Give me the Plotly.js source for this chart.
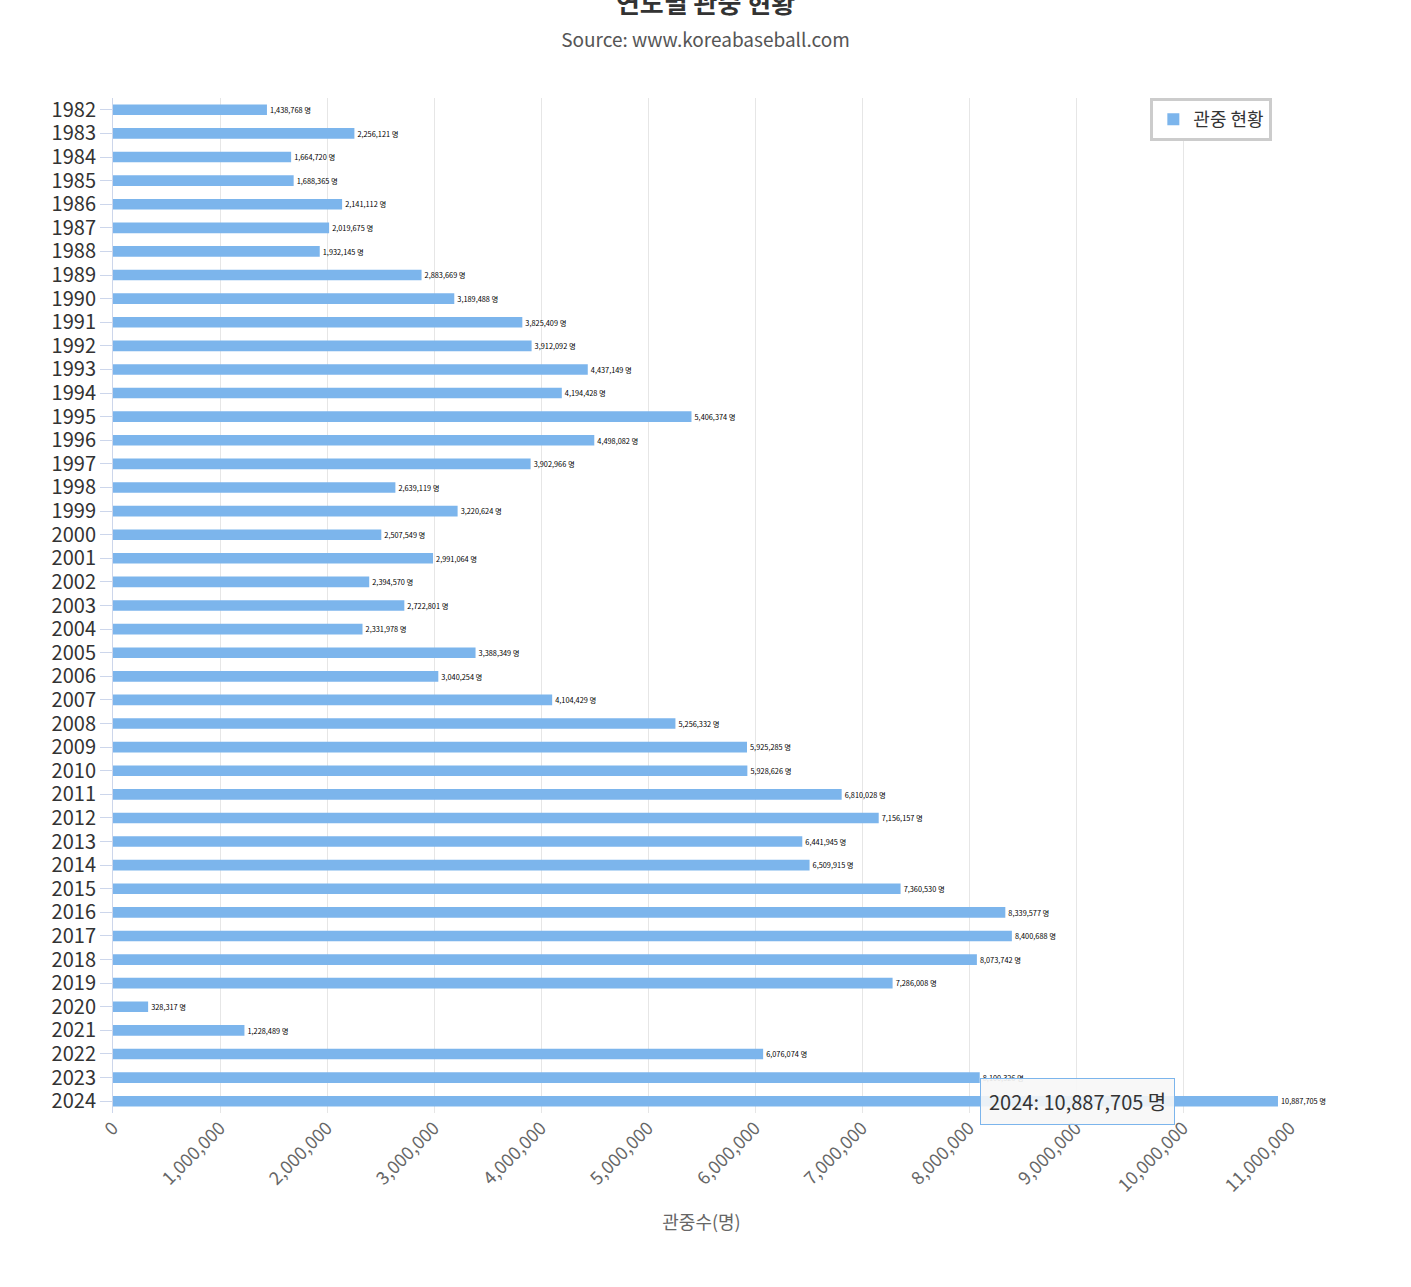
<!DOCTYPE html>
<html>
<head>
<meta charset="utf-8">
<script src="https://cdn.plot.ly/plotly-3.0.1.min.js"></script>
<style>body{margin:0;background:#fff}</style>
</head>
<body>
<div id="chart" style="width:1411px;height:1287px"></div>
<script>
var years = [1982,1983,1984,1985,1986,1987,1988,1989,1990,1991,1992,1993,1994,1995,1996,1997,1998,1999,2000,2001,2002,2003,2004,2005,2006,2007,2008,2009,2010,2011,2012,2013,2014,2015,2016,2017,2018,2019,2020,2021,2022,2023,2024];
var crowd = [1438768,2256121,1664720,1688365,2141112,2019675,1932145,2883669,3189488,3825409,3912092,4437149,4194428,5406374,4498082,3902966,2639119,3220624,2507549,2991064,2394570,2722801,2331978,3388349,3040254,4104429,5256332,5925285,5928626,6810028,7156157,6441945,6509915,7360530,8339577,8400688,8073742,7286008,328317,1228489,6076074,8100326,10887705];
var tickVals = [0,1000000,2000000,3000000,4000000,5000000,6000000,7000000,8000000,9000000,10000000,11000000];

var font = 'Noto Sans CJK KR, Noto Sans, sans-serif';
var labels = crowd.map(function(v){ return v.toLocaleString('en-US') + ' 명'; });

Plotly.newPlot('chart', [{
    type: 'bar',
    orientation: 'h',
    name: '관중 현황',
    y: years,
    x: crowd,
    text: labels,
    textposition: 'outside',
    cliponaxis: false,
    textfont: {size: 18, color: '#000', family: font},
    marker: {color: '#7cb5ec'}
}], {
    width: 1411, height: 1287,
    margin: {l: 113, r: 121, t: 98, b: 174},
    font: {family: font, color: '#333'},
    title: {text: '<b>연도별 관중 현황</b><br><span style="font-size:19px;color:#555">Source: www.koreabaseball.com</span>',
            x: 0.5, y: 0.99, yanchor: 'top', font: {size: 26, color: '#333'}},
    bargap: 0.55,
    showlegend: true,
    legend: {x: 0.985, xanchor: 'right', y: 1.0, yanchor: 'top', bordercolor: '#ccc', borderwidth: 3,
             font: {size: 18, color: '#333'}, bgcolor: '#fff'},
    xaxis: {range: [0, 11000000], tickvals: tickVals, tickformat: ',d', tickangle: -45,
            gridcolor: '#e6e6e6', zeroline: false, tickfont: {size: 18, color: '#666'},
            title: {text: '관중수(명)', font: {size: 18, color: '#666'}, standoff: 20}},
    yaxis: {range: [2024.5, 1981.5], tickvals: years, tickformat: 'd', tickfont: {size: 20, color: '#333'},
            showline: true, linecolor: '#ccd6eb', ticks: 'outside', tickcolor: '#ccd6eb', ticklen: 12,
            showgrid: false, zeroline: false},
    annotations: [{x: 8100000, y: 2024, xref: 'x', yref: 'y', xanchor: 'left', text: '2024: 10,887,705 명',
                   showarrow: false, bgcolor: 'rgba(247,247,247,0.9)', bordercolor: '#7cb5ec', borderwidth: 1,
                   borderpad: 8, font: {size: 20, color: '#333'}}]
}, {displayModeBar: false});
</script>
</body>
</html>
